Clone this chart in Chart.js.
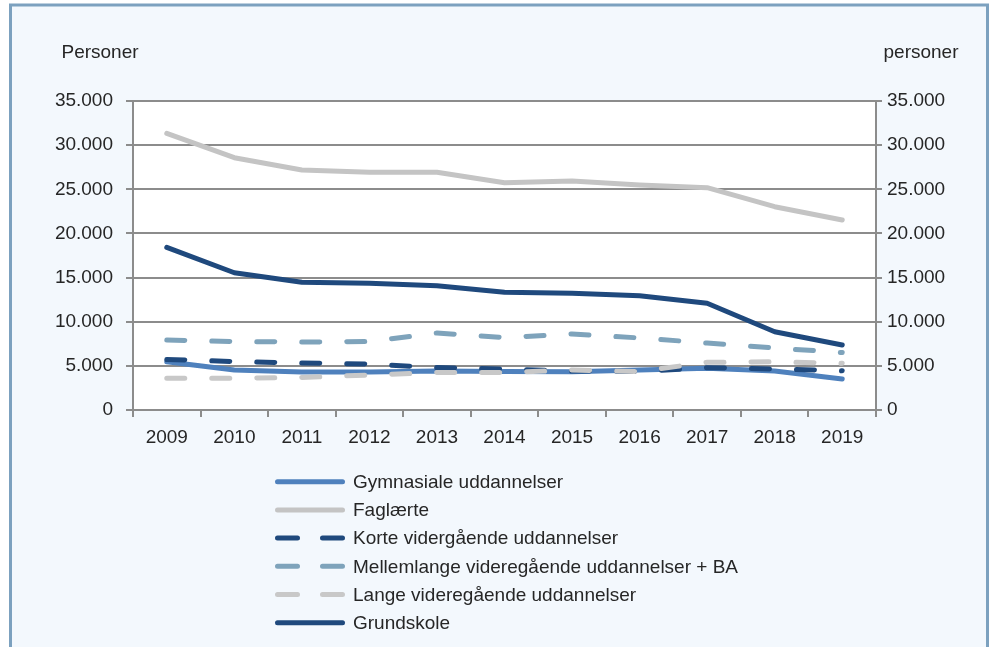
<!DOCTYPE html>
<html>
<head>
<meta charset="utf-8">
<script src="https://cdn.jsdelivr.net/npm/chart.js@4/dist/chart.umd.min.js"></script>
<style>
  html, body { margin: 0; padding: 0; background: #ffffff; }
  #wrap { position: relative; width: 995px; height: 647px; }
</style>
</head>
<body>
<div id="wrap"><canvas id="linjer"></canvas></div>
<script>
// år og serier (personer)
const years = ['2009', '2010', '2011', '2012', '2013', '2014', '2015', '2016', '2017', '2018', '2019'];
const gymnasiale = [5470, 4530, 4300, 4300, 4420, 4360, 4340, 4530, 4720, 4420, 3510];
const faglaerte = [31340, 28580, 27190, 26920, 26920, 25750, 25940, 25490, 25180, 23030, 21520];
const korte = [5720, 5490, 5320, 5210, 4800, 4640, 4420, 4360, 4790, 4640, 4450];
const mellemlange = [7930, 7760, 7700, 7760, 8720, 8210, 8610, 8160, 7590, 7020, 6510];
const lange = [3590, 3590, 3680, 3960, 4250, 4250, 4530, 4360, 5400, 5470, 5290];
const grundskole = [18430, 15550, 14460, 14350, 14080, 13350, 13220, 12950, 12090, 8870, 7360];

const yMin = 0;
const yMax = 35000;
const yStep = 5000;
const axisTitles = ['Personer', 'personer'];

const textColor = '#262626';
const gridColor = '#8c8c8c';

Chart.defaults.font.family = "'Liberation Sans', Arial, sans-serif";
Chart.defaults.font.size = 19;
Chart.defaults.color = textColor;

function tal(v) {
    return String(v).replace(/\B(?=(\d{3})+(?!\d))/g, '.');
}

const series = [
    { label: 'Gymnasiale uddannelser', data: gymnasiale, color: '#4f81bd', dash: [] },
    { label: 'Faglærte', data: faglaerte, color: '#c4c4c4', dash: [] },
    { label: 'Korte vidergående uddannelser', data: korte, color: '#1f497d', dash: [18, 27] },
    { label: 'Mellemlange videregående uddannelser + BA', data: mellemlange, color: '#7ea3bb', dash: [18, 27] },
    { label: 'Lange videregående uddannelser', data: lange, color: '#c8c8c8', dash: [18, 27] },
    { label: 'Grundskole', data: grundskole, color: '#1f497d', dash: [] }
];

// baggrund, ramme og hvidt plotområde
const baggrund = {
    id: 'baggrund',
    beforeDraw(chart) {
        const c = chart.ctx;
        const a = chart.chartArea;
        c.save();
        c.fillStyle = '#ffffff';
        c.fillRect(0, 0, chart.width, chart.height);
        c.fillStyle = '#f3f8fd';
        c.fillRect(10, 4, 978, chart.height - 4);
        c.strokeStyle = '#7ca1bf';
        c.lineWidth = 3;
        c.beginPath();
        c.moveTo(10.5, chart.height);
        c.lineTo(10.5, 5);
        c.lineTo(987.5, 5);
        c.lineTo(987.5, chart.height);
        c.stroke();
        c.fillStyle = '#ffffff';
        c.fillRect(a.left, a.top, a.right - a.left, a.bottom - a.top);
        c.restore();
    }
};

// aksetitler og forklaring under diagrammet
const forklaring = {
    id: 'forklaring',
    afterDraw(chart) {
        const c = chart.ctx;
        c.save();
        c.font = "19px 'Liberation Sans', Arial, sans-serif";
        c.fillStyle = textColor;
        c.textBaseline = 'alphabetic';
        c.textAlign = 'center';
        c.fillText(axisTitles[0], 100, 58);
        c.fillText(axisTitles[1], 921, 58);

        c.textAlign = 'left';
        c.textBaseline = 'middle';
        chart.data.datasets.forEach((ds, i) => {
            const y = 481.7 + i * 28.2;
            c.strokeStyle = ds.borderColor;
            c.lineWidth = 5;
            c.lineCap = 'round';
            c.setLineDash(ds.borderDash.length ? [20, 25] : []);
            c.beginPath();
            c.moveTo(277.5, y);
            c.lineTo(342.5, y);
            c.stroke();
            c.setLineDash([]);
            c.fillText(ds.label, 353, y + 1);
        });
        c.restore();
    }
};

const ctx = document.getElementById('linjer');

new Chart(ctx, {
    type: 'line',
    data: {
        labels: years,
        datasets: series.map((s, i) => ({
            label: s.label,
            data: s.data,
            borderColor: s.color,
            backgroundColor: s.color,
            borderWidth: 5,
            borderDash: s.dash,
            borderCapStyle: 'round',
            borderJoinStyle: 'round',
            pointRadius: 0,
            pointHoverRadius: 0,
            tension: 0,
            fill: false,
            order: series.length - i
        }))
    },
    options: {
        responsive: true,
        maintainAspectRatio: false,
        animation: false,
        layout: {
            padding: { top: 101, left: 0, right: 0, bottom: 0 }
        },
        plugins: {
            legend: { display: false },
            tooltip: { enabled: false },
            title: { display: false }
        },
        scales: {
            x: {
                type: 'category',
                offset: true,
                grid: {
                    offset: true,
                    drawOnChartArea: false,
                    color: gridColor,
                    lineWidth: 2,
                    tickLength: 7
                },
                border: { display: true, color: gridColor, width: 2 },
                ticks: { padding: 9, maxRotation: 0, autoSkip: false },
                afterFit(scale) { scale.height = 237; }
            },
            y: {
                position: 'left',
                min: yMin,
                max: yMax,
                ticks: {
                    stepSize: yStep,
                    padding: 13,
                    callback: (v) => tal(v)
                },
                grid: {
                    color: gridColor,
                    lineWidth: 2,
                    tickLength: 7
                },
                border: { display: true, color: gridColor, width: 2 },
                afterFit(scale) { scale.width = 133; }
            },
            y1: {
                position: 'right',
                min: yMin,
                max: yMax,
                ticks: {
                    stepSize: yStep,
                    padding: 5,
                    callback: (v) => tal(v)
                },
                grid: {
                    drawOnChartArea: false,
                    color: gridColor,
                    lineWidth: 2,
                    tickLength: 6
                },
                border: { display: true, color: gridColor, width: 2 },
                afterFit(scale) { scale.width = 119; }
            }
        }
    },
    plugins: [baggrund, forklaring]
});
</script>
</body>
</html>
